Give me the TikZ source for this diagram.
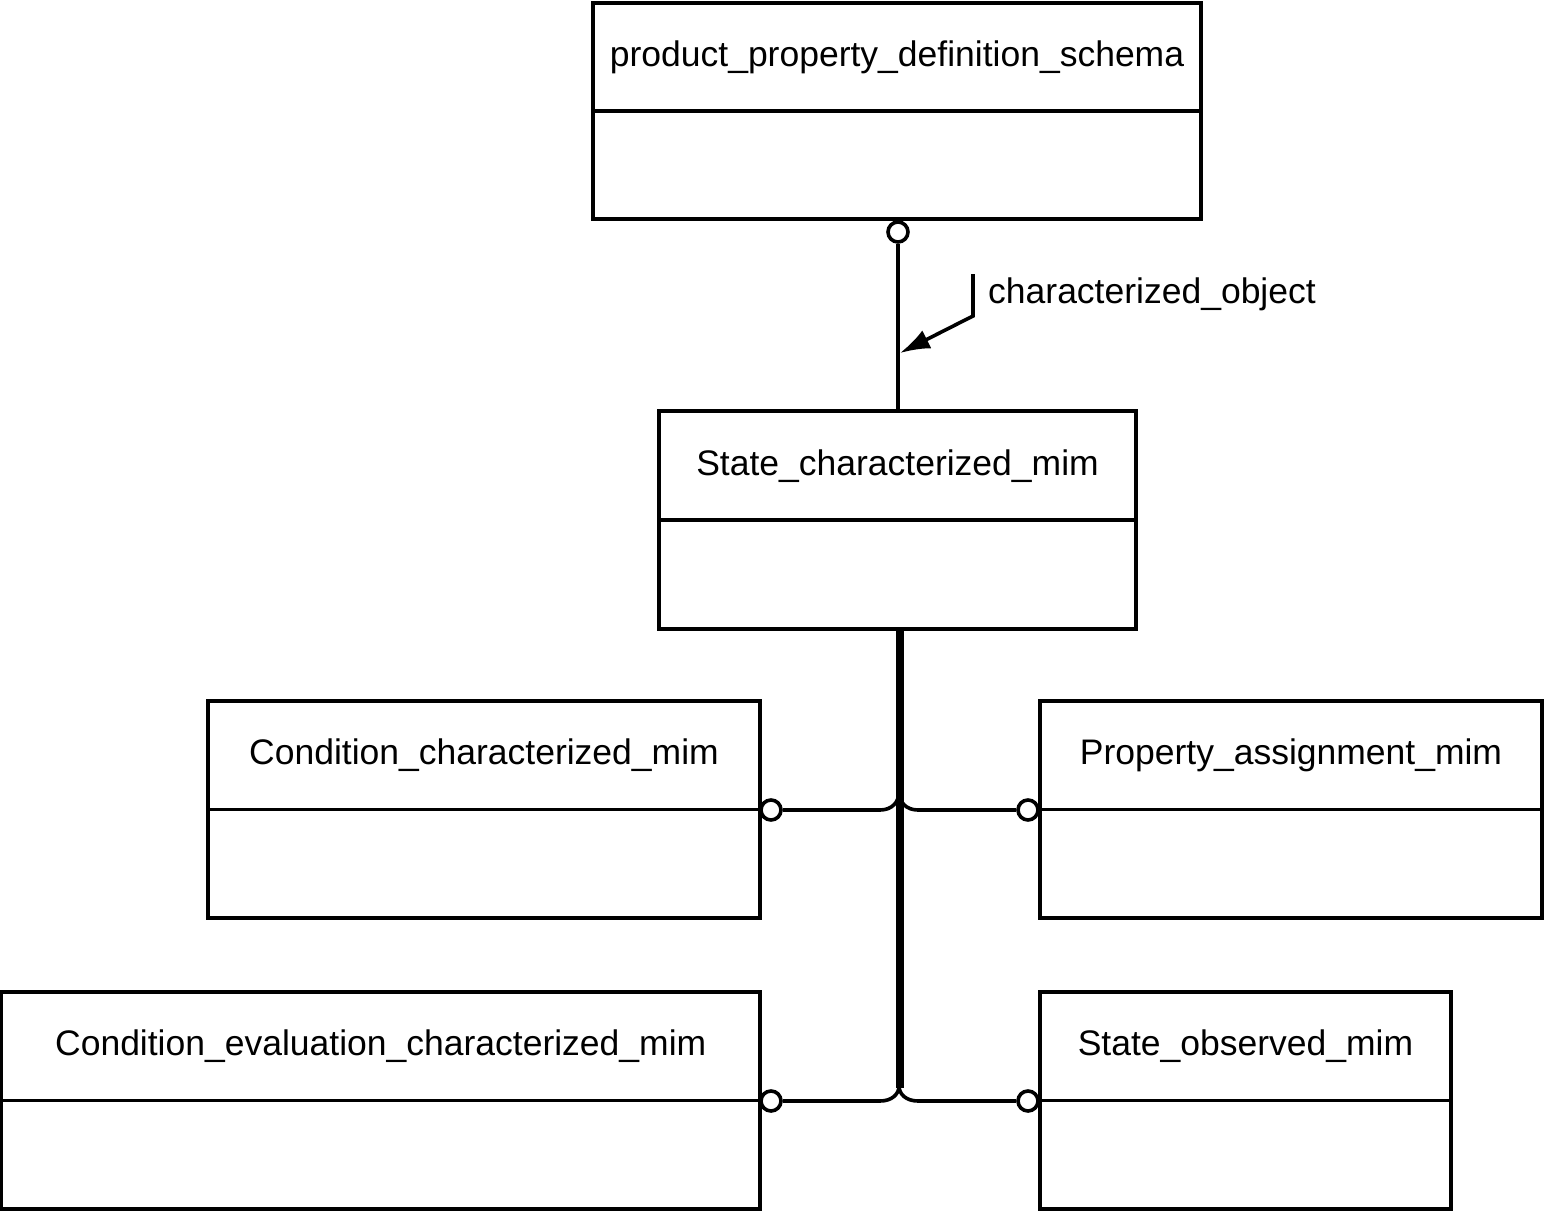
\documentclass[tikz,border=0pt]{standalone}
\usepackage{fontspec}
\setmainfont{Liberation Sans}
\usetikzlibrary{calc,arrows.meta}
\begin{document}
\begin{tikzpicture}[x=1pt,y=-1pt,
  umlbox/.style={draw,line width=3.6pt,rectangle,inner sep=0pt},
  lbl/.style={inner sep=0pt,font=\fontsize{35.5}{40}\selectfont},
  opt/.style={draw,line width=3.6pt,circle,fill=white,minimum size=20pt,inner sep=0pt},
  conn/.style={line width=3.6pt},
  trunk/.style={line width=8pt}]
\useasboundingbox (0,0) rectangle (1544,1212);
% boxes
\node[umlbox,minimum width=608pt,minimum height=216pt] (ppd) at (897,111) {};
\node[umlbox,minimum width=477pt,minimum height=218pt] (st) at (897.5,520) {};
\node[umlbox,minimum width=552pt,minimum height=217pt] (ccm) at (484,809.5) {};
\node[umlbox,minimum width=502pt,minimum height=217pt] (pam) at (1291,809.5) {};
\node[umlbox,minimum width=758.5pt,minimum height=217pt] (cec) at (380.75,1100.5) {};
\node[umlbox,minimum width=411pt,minimum height=217pt] (som) at (1245.5,1100.5) {};
\foreach \b in {ppd,st,ccm,pam,cec,som}{\draw[conn] (\b.west) -- (\b.east);}
% titles
\node[lbl] (ppdt) at ($(ppd.north)+(0,56)$) {product\_property\_definition\_schema};
\node[lbl] (stt) at ($(st.north)+(0,57)$) {State\_characterized\_mim};
\node[lbl] (ccmt) at ($(ccm.north)+(0,56)$) {Condition\_characterized\_mim};
\node[lbl] (pamt) at ($(pam.north)+(0,56)$) {Property\_assignment\_mim};
\node[lbl] (cect) at ($(cec.north)+(0,56)$) {Condition\_evaluation\_characterized\_mim};
\node[lbl] (somt) at ($(som.north)+(0,56)$) {State\_observed\_mim};
% top relation
\node[opt] (c0) at (898,232) {};
\draw[conn] (c0.south) -- (c0.south |- st.north);
\coordinate (a0) at (973,274);
\coordinate (a1) at (973,316);
\coordinate (a2) at (900,353);
\draw[conn,-{Latex[length=30pt,width=20pt]}] (a0) -- (a1) -- (a2);
\node[lbl,anchor=west] (rl) at (988,294) {characterized\_object};
% trunk
\coordinate (tb) at (900,1088);
\draw[trunk] (st.south -| tb) -- (tb);
% side circles
\node[opt] (c1) at (771,810) {};
\node[opt] (c2) at (1028,810) {};
\node[opt] (c3) at (771,1101) {};
\node[opt] (c4) at (1028,1101) {};
\coordinate (j1) at (899,792);
\coordinate (j2) at (899,1086);
\draw[conn] (c1.east) -- (880,810) .. controls (892,810) and (899,802) .. (j1);
\draw[conn] (c2.west) -- (918,810) .. controls (906,810) and (899,802) .. (j1);
\draw[conn] (c3.east) -- (880,1101) .. controls (892,1101) and (899,1094) .. (j2);
\draw[conn] (c4.west) -- (918,1101) .. controls (906,1101) and (899,1094) .. (j2);
\end{tikzpicture}
\end{document}
